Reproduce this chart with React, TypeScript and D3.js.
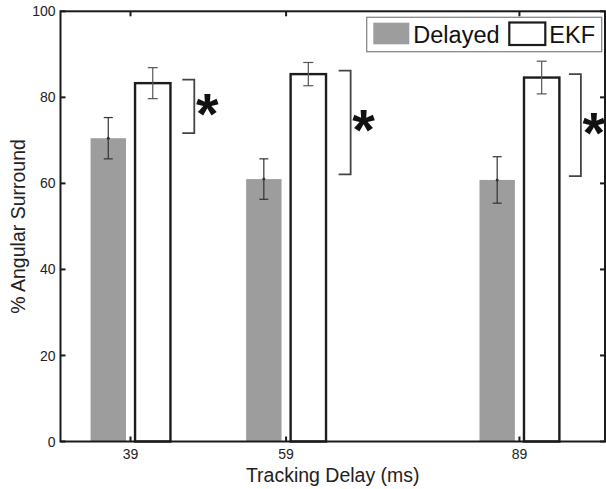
import React from "react";
import * as d3 from "d3";

const delays = [39, 59, 89];
const delayedMean = [70.5, 61.0, 60.8];
const delayedErr = [4.8, 4.7, 5.4];
const ekfMean = [83.3, 85.4, 84.6];
const ekfErr = [3.6, 2.7, 3.8];
const bracketLow = [71.7, 62.1, 61.7];
const bracketHigh = [84.1, 86.2, 85.4];
const bracketX = [47.2, 67.3, 96.9];
const yTicks = [0, 20, 40, 60, 80, 100];
const legendLabels = ["Delayed", "EKF"];
const xLabel = "Tracking Delay (ms)";
const yLabel = "% Angular Surround";

const W = 606;
const H = 489;
const FONT = "'Liberation Sans', Arial, Helvetica, sans-serif";

export default function App() {
  const x = d3.scaleLinear().domain([30, 100]).range([60.5, 605]);
  const y = d3.scaleLinear().domain([0, 100]).range([441.5, 11.3]);
  const off = 2.86;
  const bw = x(4.55) - x(0);
  const axisColor = "#1a1a1a";
  const tickLen = 5;
  const [x0, x1] = x.range();
  const [y0, y1] = y.range();

  return (
    <svg
      width={W}
      height={H}
      style={{ position: "absolute", left: 0, top: 0, background: "#fff" }}
      fontFamily={FONT}
    >
      <rect x={0} y={0} width={W} height={H} fill="#fff" />
      {/* bars */}
      {delays.map((d, i) => (
        <g key={"b" + d}>
          <rect
            x={x(d - off) - bw / 2}
            y={y(delayedMean[i])}
            width={bw}
            height={y(0) - y(delayedMean[i])}
            fill="#9d9d9d"
          />
          <rect
            x={x(d + off) - bw / 2}
            y={y(ekfMean[i])}
            width={bw}
            height={y(0) - y(ekfMean[i])}
            fill="#fff"
            stroke="#1c1c1c"
            strokeWidth={2.4}
          />
        </g>
      ))}
      {/* error bars */}
      {delays.map((d, i) => {
        const cx1 = x(d - off);
        const cx2 = x(d + off);
        return (
          <g key={"e" + d}>
            <line x1={cx1} x2={cx1} y1={y(delayedMean[i] + delayedErr[i])} y2={y(delayedMean[i] - delayedErr[i])} stroke="#333" strokeWidth={1.2} />
            <line x1={cx1 - 4.5} x2={cx1 + 4.5} y1={y(delayedMean[i] + delayedErr[i])} y2={y(delayedMean[i] + delayedErr[i])} stroke="#333" strokeWidth={1.2} />
            <line x1={cx1 - 4.5} x2={cx1 + 4.5} y1={y(delayedMean[i] - delayedErr[i])} y2={y(delayedMean[i] - delayedErr[i])} stroke="#333" strokeWidth={1.2} />
            <circle cx={cx1} cy={y(delayedMean[i])} r={1.5} fill="#333" />
            <line x1={cx2} x2={cx2} y1={y(ekfMean[i] + ekfErr[i])} y2={y(ekfMean[i] - ekfErr[i])} stroke="#555" strokeWidth={1.2} />
            <line x1={cx2 - 5} x2={cx2 + 5} y1={y(ekfMean[i] + ekfErr[i])} y2={y(ekfMean[i] + ekfErr[i])} stroke="#555" strokeWidth={1.2} />
            <line x1={cx2 - 5} x2={cx2 + 5} y1={y(ekfMean[i] - ekfErr[i])} y2={y(ekfMean[i] - ekfErr[i])} stroke="#555" strokeWidth={1.2} />
          </g>
        );
      })}
      {/* significance brackets */}
      {delays.map((d, i) => {
        const bx = x(bracketX[i]);
        const ya = y(bracketHigh[i]);
        const yb = y(bracketLow[i]);
        return (
          <g key={"s" + d}>
            <path
              d={`M${bx - 12},${ya} H${bx} V${yb} H${bx - 12}`}
              fill="none"
              stroke="#444"
              strokeWidth={1.8}
            />
            <text
              x={bx + 13}
              y={(ya + yb) / 2 + 27.5}
              textAnchor="middle"
              fontSize={58}
              fontWeight="bold"
              fill="#111"
            >
              *
            </text>
          </g>
        );
      })}
      {/* frame */}
      <rect x={x0} y={y1} width={x1 - x0} height={y0 - y1} fill="none" stroke={axisColor} strokeWidth={2} />
      {/* y ticks */}
      {yTicks.map((t) => (
        <g key={"y" + t}>
          <line x1={x0} x2={x0 + tickLen} y1={y(t)} y2={y(t)} stroke={axisColor} strokeWidth={2} />
          <line x1={x1} x2={x1 - tickLen} y1={y(t)} y2={y(t)} stroke={axisColor} strokeWidth={2} />
          <text x={x0 - 5} y={y(t)} dy="0.36em" textAnchor="end" fontSize={14} fill="#222">
            {t}
          </text>
        </g>
      ))}
      {/* x ticks */}
      {delays.map((d) => (
        <g key={"x" + d}>
          <line x1={x(d)} x2={x(d)} y1={y0} y2={y0 - tickLen} stroke={axisColor} strokeWidth={2} />
          <line x1={x(d)} x2={x(d)} y1={y1} y2={y1 + tickLen} stroke={axisColor} strokeWidth={2} />
          <text x={x(d)} y={459} textAnchor="middle" fontSize={14} fill="#222">
            {d}
          </text>
        </g>
      ))}
      {/* axis labels */}
      <text x={(x0 + x1) / 2} y={481.7} textAnchor="middle" fontSize={19.5} fill="#222">
        {xLabel}
      </text>
      <text
        transform={`translate(24.5,${(y0 + y1) / 2}) rotate(-90)`}
        textAnchor="middle"
        fontSize={19.5}
        fill="#222"
      >
        {yLabel}
      </text>
      {/* legend */}
      <g>
        <rect x={366.7} y={17.3} width={235} height={34.4} fill="#fff" stroke="#888" strokeWidth={1.3} />
        <rect x={373.3} y={22.7} width={36} height={21.6} fill="#9d9d9d" />
        <text x={413.3} y={43.3} fontSize={23.5} fill="#111">
          {legendLabels[0]}
        </text>
        <rect x={509.3} y={22.5} width={36} height={22.5} fill="#fff" stroke="#1c1c1c" strokeWidth={2.2} />
        <text x={549.3} y={43.3} fontSize={23.5} fill="#111">
          {legendLabels[1]}
        </text>
      </g>
    </svg>
  );
}
